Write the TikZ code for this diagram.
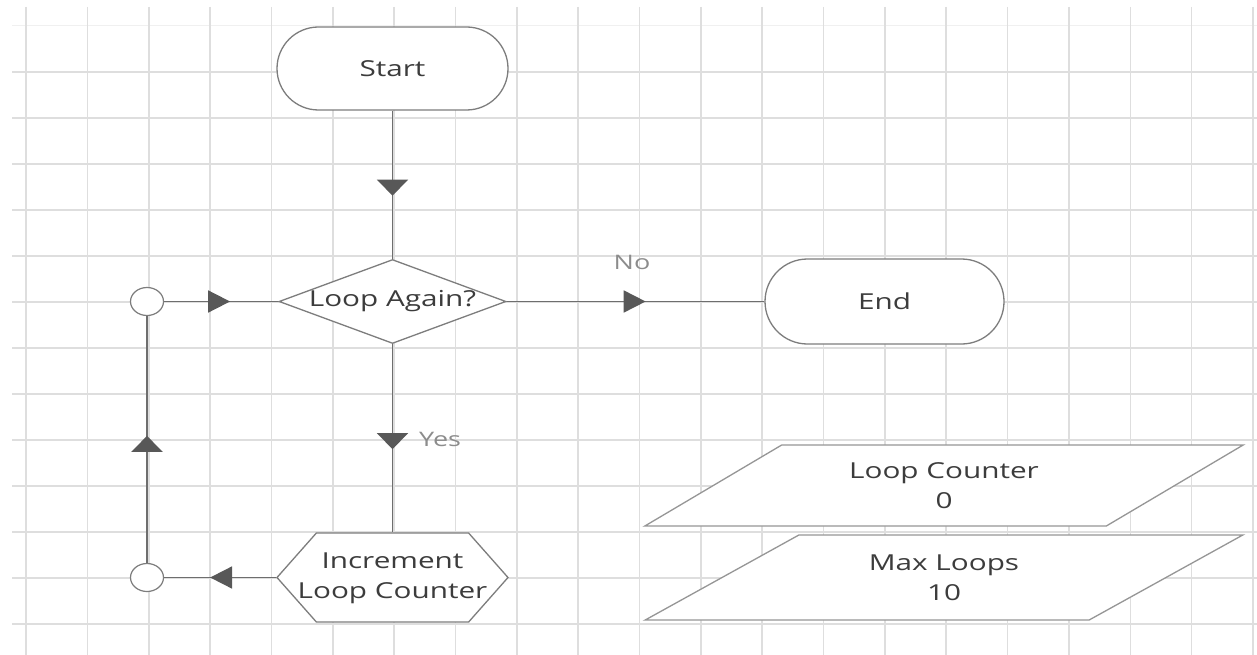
\documentclass[tikz,border=0pt]{standalone}
\usepackage{fontspec}
\setmainfont[FakeStretch=1.35]{Open Sans}
\usetikzlibrary{shapes.geometric,shapes.misc,shapes.symbols,arrows.meta,decorations.markings}
\definecolor{gridc}{RGB}{222,222,222}
\definecolor{gridf}{RGB}{240,240,240}
\definecolor{edgec}{RGB}{125,125,125}
\definecolor{pedge}{RGB}{150,150,150}
\definecolor{linec}{RGB}{110,110,110}
\definecolor{tipc}{RGB}{88,88,88}
\definecolor{txtc}{RGB}{60,60,60}
\definecolor{lblc}{RGB}{140,140,140}
\tikzset{
  x=1pt, y=-1pt,
  box/.style={draw=edgec, line width=1.3pt, fill=white, text=txtc, inner sep=0pt,
    font=\fontsize{22}{30}\selectfont, align=center},
  term/.style={box, rounded rectangle},
  decide/.style={box, diamond},
  proc/.style={box, signal, signal to=west and east, signal pointer angle=97},
  datab/.style={box, draw=pedge, trapezium, trapezium left angle=30, trapezium right angle=150,
    trapezium stretches=true, minimum width=600pt},
  junc/.style={draw=edgec, line width=1.2pt, fill=white, ellipse, minimum width=33pt,
    minimum height=28pt, inner sep=0pt},
  conn/.style={draw=linec, line width=1.8pt},
  lbl/.style={text=lblc, inner sep=0pt, font=\fontsize{20}{24}\selectfont},
  midh/.style={postaction={decorate}, decoration={markings,
    mark=at position #1 with {\arrow[color=tipc]{Triangle[length=22pt,width=22pt]}}}},
  midv/.style={postaction={decorate}, decoration={markings,
    mark=at position #1 with {\arrow[color=tipc]{Triangle[length=16pt,width=31pt]}}}}
}
\begin{document}
\begin{tikzpicture}
\useasboundingbox (0,0) rectangle (1257,655);
\fill[white] (0,0) rectangle (1257,655);
% grid
\draw[gridf, line width=1pt] (12,26) -- (1257,26);
\foreach \j in {0,...,12} \draw[gridc, line width=1.4pt] (12,{72+46*\j}) -- (1257,{72+46*\j});
\foreach \i in {0,...,20} \draw[gridc, line width=1.6pt] ({26+61.35*\i},7) -- ({26+61.35*\i},655);

% nodes
\node[term, minimum width=231pt, minimum height=83pt] (s) at (392.5,68.5) {Start};
\node[decide, minimum width=227pt, minimum height=84pt] (q) at (392.5,301.5) {\makebox[0pt]{Loop Again?}};
\node[term, minimum width=239pt, minimum height=85pt] (e) at (884.5,301.5) {End};
\node[proc, minimum width=231pt, minimum height=89pt] (h) at (392.5,577.5)
  {\makebox[0pt]{\begin{tabular}{@{}c@{}}Increment\\Loop Counter\end{tabular}}};
\node[junc] (c1) at (147,301.5) {};
\node[junc] (c2) at (147,577.5) {};
\node[datab, minimum height=81pt] (d1) at (944,485.5) {Loop Counter\\0};
\node[datab, minimum height=85pt] (d2) at (944,577.5) {Max Loops\\10};
\node[lbl] (lno) at (632,262) {No};
\node[lbl, anchor=west] (lyes) at (419,439) {Yes};

% connectors
\draw[conn, midv=85pt] (s.south) -- (q.north);
\draw[conn, midh=66pt] (c1.east) -- (q.west);
\draw[conn, midh=139pt] (q.east) -- (e.west);
\draw[conn, midv=105pt] (q.south) -- (h.north);
\draw[conn, midh=66pt] (h.west) -- (c2.east);
\draw[conn, line width=2.6pt, midv=127pt] (c2.north) -- (c1.south);
\end{tikzpicture}
\end{document}
